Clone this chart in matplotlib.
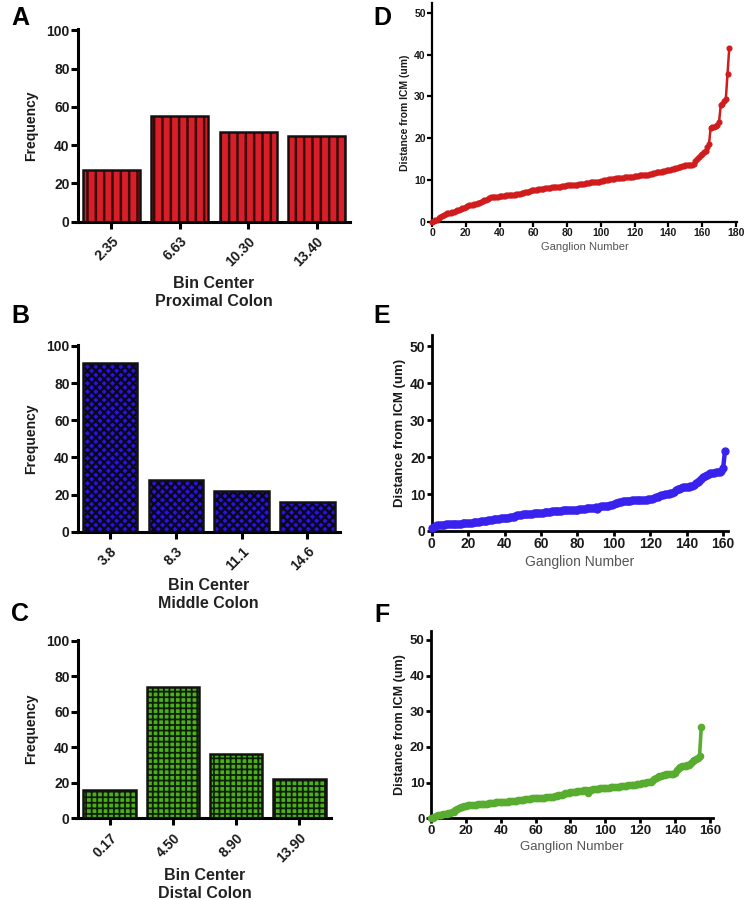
import matplotlib
matplotlib.use("Agg")
import matplotlib.pyplot as plt
import numpy as np

plt.rcParams['font.family'] = ['Liberation Sans', 'DejaVu Sans']

# ---------------- data ----------------
prox_bins = ["2.35", "6.63", "10.30", "13.40"]
prox_freq = [27, 55, 47, 45]
mid_bins = ["3.8", "8.3", "11.1", "14.6"]
mid_freq = [91, 28, 22, 16]
dist_bins = ["0.17", "4.50", "8.90", "13.90"]
dist_freq = [16, 74, 36, 22]

prox_dist = [
    0.0, 0.1, 0.3, 0.5, 0.8, 1.1, 1.4, 1.7, 1.9, 2.0,
    2.1, 2.2, 2.3, 2.4, 2.6, 2.8, 2.9, 3.0, 3.2, 3.4,
    3.6, 3.8, 3.9, 4.0, 4.1, 4.2, 4.3, 4.4, 4.6, 4.8,
    5.0, 5.1, 5.3, 5.5, 5.6, 5.8, 6.0, 6.0, 6.0, 6.0,
    6.1, 6.1, 6.2, 6.2, 6.3, 6.3, 6.4, 6.4, 6.5, 6.5,
    6.6, 6.6, 6.7, 6.8, 6.9, 7.0, 7.1, 7.2, 7.4, 7.5,
    7.6, 7.7, 7.7, 7.8, 7.8, 7.9, 7.9, 8.0, 8.0, 8.1,
    8.1, 8.2, 8.2, 8.3, 8.3, 8.4, 8.4, 8.5, 8.6, 8.6,
    8.7, 8.7, 8.8, 8.8, 8.8, 8.9, 8.9, 9.0, 9.0, 9.0,
    9.1, 9.2, 9.3, 9.3, 9.4, 9.4, 9.4, 9.5, 9.5, 9.6,
    9.7, 9.8, 9.9, 10.0, 10.1, 10.2, 10.2, 10.3, 10.3, 10.4,
    10.4, 10.5, 10.5, 10.5, 10.6, 10.6, 10.6, 10.7, 10.7, 10.8,
    10.9, 11.0, 11.0, 11.1, 11.1, 11.1, 11.2, 11.2, 11.3, 11.4,
    11.5, 11.6, 11.7, 11.8, 11.9, 12.0, 12.0, 12.1, 12.2, 12.3,
    12.4, 12.5, 12.6, 12.7, 12.8, 12.9, 13.0, 13.1, 13.3, 13.4,
    13.5, 13.6, 13.6, 13.7, 13.7, 13.8, 14.5, 15.0, 15.5, 16.0,
    16.3, 16.6, 17.0, 18.0, 18.5, 22.5, 22.6, 22.7, 22.9, 23.2,
    24.0, 28.0, 28.2, 29.0, 29.5, 35.5, 41.5,
]
mid_dist = [
    0.8, 1.2, 1.4, 1.5, 1.6, 1.6, 1.7, 1.7, 1.8, 1.8,
    1.8, 1.9, 1.9, 1.9, 2.0, 2.0, 2.0, 2.1, 2.1, 2.2,
    2.2, 2.3, 2.3, 2.4, 2.4, 2.5, 2.5, 2.6, 2.6, 2.7,
    2.8, 2.9, 3.0, 3.1, 3.2, 3.2, 3.3, 3.3, 3.4, 3.4,
    3.5, 3.5, 3.6, 3.7, 3.8, 3.9, 4.0, 4.2, 4.3, 4.4,
    4.5, 4.5, 4.6, 4.6, 4.7, 4.7, 4.8, 4.8, 4.9, 4.9,
    5.0, 5.0, 5.1, 5.1, 5.2, 5.2, 5.3, 5.4, 5.4, 5.5,
    5.5, 5.5, 5.6, 5.6, 5.6, 5.7, 5.7, 5.7, 5.8, 5.8,
    5.8, 5.9, 5.9, 6.0, 6.0, 6.1, 6.1, 6.2, 6.3, 6.3,
    6.4, 6.0, 6.6, 6.7, 6.8, 6.8, 6.9, 6.9, 7.0, 7.1,
    7.3, 7.5, 7.7, 7.8, 7.9, 8.0, 8.0, 8.1, 8.2, 8.2,
    8.3, 8.3, 8.4, 8.4, 8.4, 8.5, 8.5, 8.5, 8.5, 8.6,
    8.6, 8.7, 8.9, 9.1, 9.3, 9.5, 9.7, 9.8, 9.9, 10.0,
    10.1, 10.2, 10.3, 10.5, 11.0, 11.3, 11.5, 11.7, 11.8, 11.9,
    12.0, 12.0, 12.1, 12.2, 12.5, 13.0, 13.3, 13.6, 14.0, 14.5,
    15.0, 15.2, 15.4, 15.6, 15.7, 15.8, 15.9, 16.0, 16.1, 16.3,
    17.0, 21.7,
]
distal_dist = [
    0.0, 0.2, 0.4, 0.6, 0.8, 0.9, 1.0, 1.1, 1.2, 1.3,
    1.4, 1.5, 1.7, 1.9, 2.2, 2.5, 2.8, 3.1, 3.3, 3.4,
    3.5, 3.6, 3.6, 3.7, 3.7, 3.8, 3.8, 3.9, 3.9, 4.0,
    4.0, 4.1, 4.1, 4.2, 4.2, 4.3, 4.4, 4.5, 4.5, 4.6,
    4.6, 4.6, 4.7, 4.7, 4.7, 4.8, 4.8, 4.8, 4.9, 4.9,
    5.0, 5.0, 5.1, 5.2, 5.3, 5.4, 5.5, 5.5, 5.6, 5.6,
    5.6, 5.7, 5.7, 5.7, 5.8, 5.8, 5.9, 5.9, 6.0, 6.0,
    6.1, 6.2, 6.3, 6.4, 6.5, 6.6, 6.8, 7.0, 7.1, 7.2,
    7.3, 7.4, 7.5, 7.5, 7.6, 7.6, 7.7, 7.7, 7.8, 7.8,
    7.2, 7.9, 8.0, 8.1, 8.2, 8.3, 8.3, 8.4, 8.4, 8.5,
    8.5, 8.6, 8.6, 8.7, 8.7, 8.8, 8.8, 8.9, 8.9, 9.0,
    9.0, 9.1, 9.1, 9.2, 9.2, 9.3, 9.3, 9.4, 9.5, 9.6,
    9.7, 9.8, 9.9, 10.0, 10.1, 10.1, 10.2, 10.5, 10.9, 11.3,
    11.6, 11.8, 12.0, 12.1, 12.2, 12.3, 12.3, 12.4, 12.4, 12.5,
    12.8, 13.5, 14.0, 14.4, 14.6, 14.7, 14.8, 14.9, 15.0, 15.5,
    16.0, 16.3, 16.6, 16.8, 17.5, 25.5,
]

W, H = 747, 900
fig = plt.figure(figsize=(W / 100, H / 100), dpi=100)


def px_axes(x0, x1, ytop, ybot):
    return fig.add_axes([x0 / W, 1 - ybot / H, (x1 - x0) / W, (ybot - ytop) / H])


def style_axes(ax, lw, fs, tlen):
    for s in ["top", "right"]:
        ax.spines[s].set_visible(False)
    for s in ["left", "bottom"]:
        ax.spines[s].set_linewidth(lw)
    ax.tick_params(width=lw, length=tlen, labelsize=fs, direction="out", pad=1)
    for lab in ax.get_yticklabels() + ax.get_xticklabels():
        lab.set_fontweight("bold")
        lab.set_color("#1a1a1a")


def bar_panel(box, labels, vals, color, hatch, hlw, hcol, xl, sub, label_y):
    ax = px_axes(*box)
    x = np.arange(len(vals))
    with plt.rc_context({"hatch.linewidth": hlw}):
        ax.bar(x, vals, width=0.83, color=color, edgecolor=hcol,
               linewidth=0, hatch=hatch, zorder=2)
    ax.bar(x, vals, width=0.83, color="none", edgecolor="#111111",
           linewidth=1.8, zorder=3)
    ax.set_xlim(*xl)
    ax.set_ylim(0, 100.5)
    ax.set_yticks([0, 20, 40, 60, 80, 100])
    ax.set_xticks(x)
    ax.set_xticklabels(labels, rotation=45, ha="right", va="top",
                       rotation_mode="anchor")
    style_axes(ax, 2.2, 10, 5)
    ax.tick_params(axis="x", pad=4)
    ax.set_ylabel("Frequency", fontsize=10, fontweight="bold", labelpad=6,
                  color="#1a1a1a")
    cx = (box[0] + box[1]) / 2
    fig.text(cx / W, 1 - label_y / H, "Bin Center", ha="center", va="center",
             fontsize=11.5, fontweight="bold", color="#222222")
    fig.text(cx / W, 1 - (label_y + 19) / H, sub, ha="center", va="center",
             fontsize=11.5, fontweight="bold", color="#222222")
    return ax


bar_panel((78, 350, 29.3, 221.7), prox_bins, prox_freq, "#d81e28", "||", 1.8,
          "#3a0a0a", (-0.49, 3.49), "Proximal Colon", 283)
bar_panel((78, 339.5, 345, 531.7), mid_bins, mid_freq, "#2a14e0", "xxxx", 1.7,
          "#0a0520", (-0.49, 3.49), "Middle Colon", 585)
bar_panel((78, 331, 640, 818.3), dist_bins, dist_freq, "#4cb01c", "+++", 1.3,
          "#0f2008", (-0.5, 3.5), "Distal Colon", 875)


def line_panel(box, vals, color, xmax, ymax, xt, lw, ms, fs, afs, xlfs, spw):
    ax = px_axes(*box)
    n = np.arange(len(vals))
    ax.plot(n, vals, color=color, lw=lw, marker="o", ms=ms, mec=color,
            mfc=color, clip_on=False, zorder=3)
    ax.set_xlim(0, xmax)
    ax.set_ylim(0, ymax)
    ax.set_yticks([0, 10, 20, 30, 40, 50])
    ax.set_xticks(xt)
    style_axes(ax, spw, fs, 3.5)
    ax.set_ylabel("Distance from ICM (um)", fontsize=afs, fontweight="bold",
                  labelpad=3, color="#1a1a1a")
    ax.set_xlabel("Ganglion Number", fontsize=xlfs, color="#555555", labelpad=3)
    return ax


line_panel((432, 737, 3, 221.7), prox_dist, "#d01c1c", 180.6, 52.4,
           np.arange(0, 181, 20), 1.8, 3.4, 7.5, 7.5, 8, 1.6)
line_panel((431.7, 727.7, 335, 531), mid_dist, "#3a22ee", 162.5, 53.1,
           np.arange(0, 161, 20), 3.2, 5, 10, 9.5, 10, 2.0)
line_panel((431, 713.3, 630.7, 818.3), distal_dist, "#58ac30", 161.9, 52.6,
           np.arange(0, 161, 20), 2.6, 4.5, 9.5, 9, 9.5, 2.0)

for letter, (lx, ly) in {"A": (20, 18), "B": (20, 316), "C": (20, 614),
                         "D": (382, 18), "E": (382, 316), "F": (382, 615)}.items():
    fig.text(lx / W, 1 - ly / H, letter, ha="center", va="center",
             fontsize=18, fontweight="bold")

fig.savefig("out.png", dpi=100)
